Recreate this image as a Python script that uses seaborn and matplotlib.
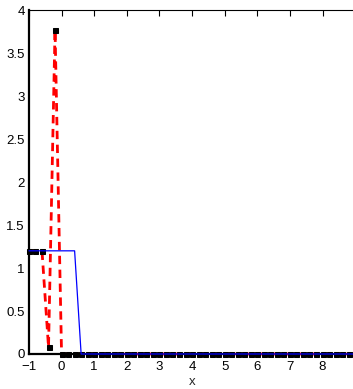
import numpy as np
import pandas as pd
import matplotlib
matplotlib.use("Agg")
import matplotlib.pyplot as plt
import seaborn as sns

# sample grid (step 0.2 from -1 to 9)
x_vals = [round(-1 + 0.2 * i, 1) for i in range(51)]

# dashed red series with square markers
red_head = [1.2, 1.2, 1.2, 0.08, 3.77, 0.0]
red_vals = red_head + [0.0] * (len(x_vals) - len(red_head))

# thin blue series
blue_head = [1.2, 1.2, 1.2, 1.2, 1.2, 1.2, 1.2, 1.2, 0.0]
blue_vals = blue_head + [0.0] * (len(x_vals) - len(blue_head))

x_ticks = [-1, 0, 1, 2, 3, 4, 5, 6, 7, 8]
y_ticks = [0, 0.5, 1, 1.5, 2, 2.5, 3, 3.5, 4]
y_labels = ["0", "0.5", "1", "1.5", "2", "2.5", "3", "3.5", "4"]

df = pd.DataFrame({"x": x_vals, "red": red_vals, "blue": blue_vals})

sns.set_style("white")
plt.rcParams['font.family'] = ['Liberation Sans', 'DejaVu Sans']

fig = plt.figure(figsize=(3.53, 3.89), dpi=100)
ax = fig.add_axes([0.082, 0.090, 0.924, 0.884])

sns.lineplot(data=df, x="x", y="red", ax=ax, color="red", linewidth=2,
             linestyle=(0, (3, 2)), marker="s", markersize=3.6,
             markerfacecolor="black", markeredgecolor="black", sort=False,
             zorder=4, clip_on=False)
sns.lineplot(data=df, x="x", y="blue", ax=ax, color="blue", linewidth=0.9,
             sort=False, zorder=5, clip_on=False)

ax.set_xlim(-1, 9)
ax.set_ylim(0, 4)
ax.set_xticks(x_ticks)
ax.set_yticks(y_ticks)
ax.set_xticklabels([str(t).replace("-", "\u2212") for t in x_ticks])
ax.set_yticklabels(y_labels)
ax.tick_params(direction="in", length=4, width=0.8, labelsize=9.5, pad=3,
               top=True, right=False, colors="black")
ax.tick_params(axis="x", pad=5)
ax.set_xlabel("x", fontsize=9.5, labelpad=2)
ax.set_ylabel("")
for side in ["left", "bottom"]:
    ax.spines[side].set_linewidth(1.6)
ax.spines["top"].set_linewidth(0.8)
ax.spines["right"].set_visible(False)
for s in ax.spines.values():
    s.set_color("black")

fig.savefig("out.png", dpi=100)
